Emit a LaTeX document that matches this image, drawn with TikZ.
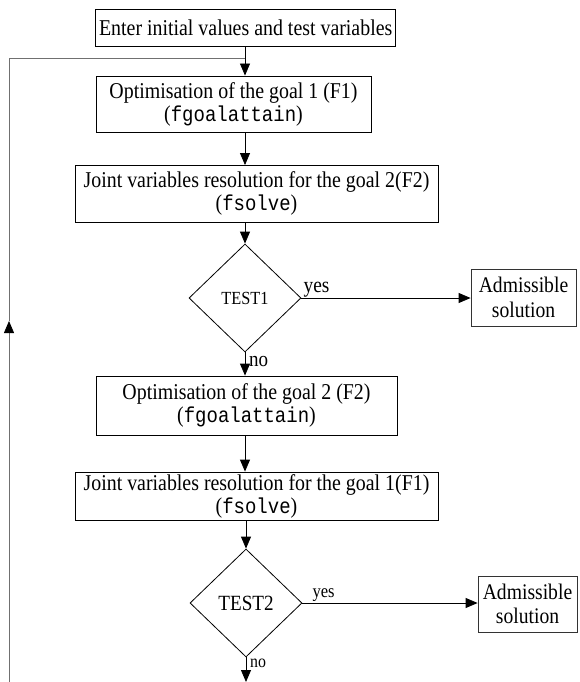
\documentclass[tikz,border=0pt]{standalone}
\usepackage{fontspec}
\setmainfont[FakeStretch=0.88]{Liberation Serif}
\setmonofont[FakeStretch=0.88,Scale=0.955]{Liberation Mono}
\usetikzlibrary{shapes.geometric,arrows.meta,positioning}

\tikzstyle{stepbox}=[draw, rectangle, inner sep=0pt, line width=0.8pt, align=center, font=\fontsize{22.6}{23}\selectfont]
\tikzstyle{answerbox}=[stepbox, draw=black!80, font=\fontsize{22.3}{24.5}\selectfont]
\tikzstyle{testbox}=[draw, diamond, inner sep=0pt, line width=0.8pt, minimum width=112pt, minimum height=108pt]
\tikzstyle{flow}=[line width=0.8pt, -{Triangle[length=12pt,width=10pt,black]}]
\tikzstyle{flowlabel}=[inner sep=0pt]
\definecolor{loopgray}{HTML}{707070}

\begin{document}
\begin{tikzpicture}[x=1pt, y=-1pt]
      \useasboundingbox (0,0) rectangle (580,682);
      \node (enter) at (245.7, 27.7)
            [stepbox, minimum width=300pt, minimum height=36.7pt] {Enter initial values and test variables};
      \node (optim1) at (233.5, 104.3)
            [stepbox, minimum width=275pt, minimum height=56.7pt] {Optimisation of the goal 1 (F1)\\(\texttt{fgoalattain})};
      \node (solve2) at (256.5, 193.8)
            [stepbox, minimum width=363pt, minimum height=56.7pt] {Joint variables resolution for the goal 2(F2)\\(\texttt{fsolve})};
      \node (test1) at (245, 298)
            [testbox, font=\fontsize{18.5}{18.5}\selectfont] {TEST1};
      \node (admiss1) at (523.5, 297.5)
            [answerbox, minimum width=105pt, minimum height=57pt] {Admissible\\solution};
      \node (optim2) at (246.5, 405.5)
            [stepbox, minimum width=301pt, minimum height=59pt] {Optimisation of the goal 2 (F2)\\(\texttt{fgoalattain})};
      \node (solve1) at (256.5, 496)
            [stepbox, minimum width=363pt, minimum height=48pt] {Joint variables resolution for the goal 1(F1)\\(\texttt{fsolve})};
      \node (test2) at (246, 603)
            [testbox, font=\fontsize{21.7}{21.7}\selectfont] {TEST2};
      \node (admiss2) at (527.5, 604)
            [answerbox, minimum width=99pt, minimum height=56pt] {Admissible\\solution};

      \node (yes1) [flowlabel, above right=1pt and 2pt of test1.east, font=\fontsize{22}{22}\selectfont] {yes};
      \node (no1) [flowlabel, below right=4pt and 4pt of test1.south, font=\fontsize{21.6}{21.6}\selectfont] {no};
      \node (yes2) [flowlabel, above right=1pt and 10pt of test2.east, font=\fontsize{18.8}{18.8}\selectfont] {yes};
      \node (no2) [flowlabel, below right=1pt and 4pt of test2.south, font=\fontsize{18}{18}\selectfont] {no};

      \coordinate (back) at (9, 682);
      \coordinate (backup) at (9, 321);
      \coordinate (corner) at (9, 58.3);
      \coordinate (exit) at (246, 682);

      \draw[flow] (enter.south -| test1.north) -- (optim1.north -| test1.north);
      \draw[flow] (optim1.south -| test1.north) -- (solve2.north -| test1.north);
      \draw[flow] (solve2.south -| test1.north) -- (test1.north);
      \draw[flow] (test1.east) -- (admiss1.west |- test1.east);
      \draw[flow] (test1.south) -- (optim2.north -| test1.south);
      \draw[flow] (optim2.south -| test1.south) -- (solve1.north -| test1.south);
      \draw[flow] (solve1.south -| test2.north) -- (test2.north);
      \draw[flow] (test2.east) -- (admiss2.west |- test2.east);
      \draw[flow] (test2.south) -- (exit);

      \draw[flow, loopgray] (back) -- (backup);
      \draw[line width=0.8pt, loopgray] (backup) -- (corner) -- (corner -| test1.north);
    \end{tikzpicture}
\end{document}
